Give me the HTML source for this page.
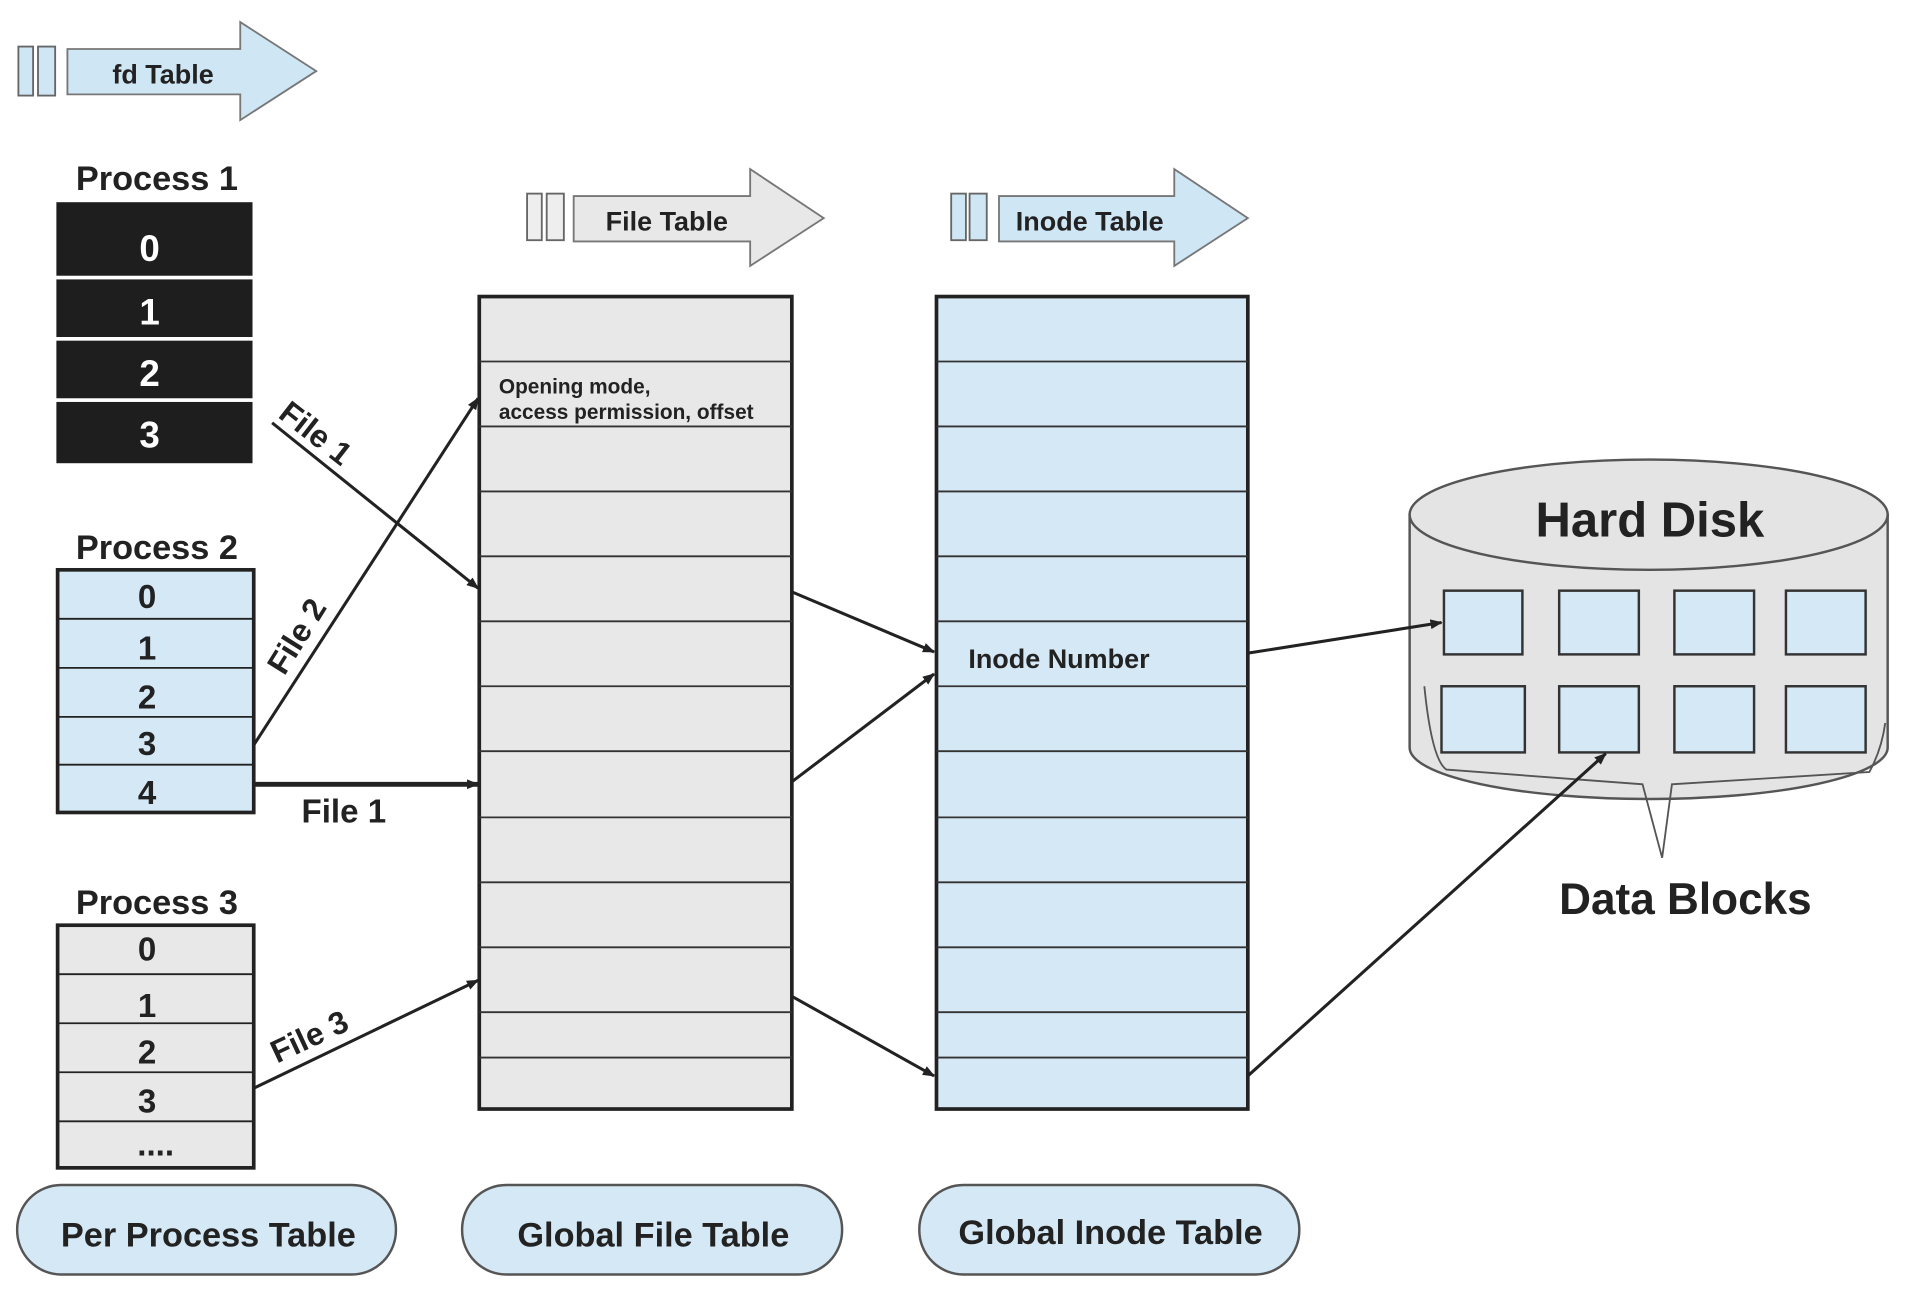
<!DOCTYPE html>
<html><head><meta charset="utf-8"><style>
html,body{margin:0;padding:0;background:#fff;}
svg{display:block;}
text{font-family:"Liberation Sans",sans-serif;font-weight:bold;fill:#222;}
</style></head><body>
<svg width="1922" height="1310" viewBox="0 0 1568 1069" preserveAspectRatio="none" xmlns="http://www.w3.org/2000/svg">
<defs>
<marker id="ah" markerWidth="10" markerHeight="10" refX="9" refY="5" orient="auto" markerUnits="userSpaceOnUse"><path d="M0,1 L10,5 L0,9 Z" fill="#222"/></marker>
</defs>
<rect width="1568" height="1069" fill="#fff"/>
<!-- fd Table arrow -->
<rect x="15" y="38" width="12" height="40" fill="#cfe6f5" stroke="#666" stroke-width="1.5"/>
<rect x="31" y="38" width="14" height="40" fill="#cfe6f5" stroke="#666" stroke-width="1.5"/>
<path d="M55,40 H196 V18 L258,58 L196,98 V77 H55 Z" fill="#cfe6f5" stroke="#777" stroke-width="1.5"/>
<text x="133" y="68" font-size="22" text-anchor="middle">fd Table</text>
<!-- File Table arrow -->
<rect x="430" y="158" width="12" height="38" fill="#eee" stroke="#666" stroke-width="1.5"/>
<rect x="446" y="158" width="14" height="38" fill="#eee" stroke="#666" stroke-width="1.5"/>
<path d="M468,160 H612 V138 L672,178 L612,217 V197 H468 Z" fill="#e8e8e8" stroke="#777" stroke-width="1.5"/>
<text x="544" y="188" font-size="22" text-anchor="middle">File Table</text>
<!-- Inode Table arrow -->
<rect x="776" y="158" width="12" height="38" fill="#cfe6f5" stroke="#666" stroke-width="1.5"/>
<rect x="791" y="158" width="14" height="38" fill="#cfe6f5" stroke="#666" stroke-width="1.5"/>
<path d="M815,160 H958 V138 L1018,178 L958,217 V197 H815 Z" fill="#cfe6f5" stroke="#777" stroke-width="1.5"/>
<text x="889" y="188" font-size="22" text-anchor="middle">Inode Table</text>

<!-- Process 1 -->
<text x="128" y="155" font-size="28" text-anchor="middle">Process 1</text>
<g fill="#1e1e1e">
<rect x="46" y="165" width="160" height="60"/><rect x="46" y="228" width="160" height="47"/>
<rect x="46" y="278" width="160" height="47"/><rect x="46" y="328" width="160" height="50"/>
</g>
<g font-size="30" text-anchor="middle">
<text x="122" y="213" style="fill:#fff">0</text><text x="122" y="265" style="fill:#fff">1</text>
<text x="122" y="315" style="fill:#fff">2</text><text x="122" y="365" style="fill:#fff">3</text>
</g>
<!-- Process 2 -->
<text x="128" y="456" font-size="28" text-anchor="middle">Process 2</text>
<rect x="47" y="465" width="160" height="198" fill="#d5e8f5" stroke="#222" stroke-width="3"/>
<g stroke="#222" stroke-width="1.5"><line x1="47" y1="505" x2="207" y2="505"/><line x1="47" y1="545" x2="207" y2="545"/><line x1="47" y1="585" x2="207" y2="585"/><line x1="47" y1="624" x2="207" y2="624"/></g>
<g font-size="27" text-anchor="middle"><text x="120" y="496">0</text><text x="120" y="538">1</text><text x="120" y="578">2</text><text x="120" y="616">3</text><text x="120" y="656">4</text></g>
<!-- Process 3 -->
<text x="128" y="746" font-size="28" text-anchor="middle">Process 3</text>
<rect x="47" y="755" width="160" height="198" fill="#e8e8e8" stroke="#222" stroke-width="3"/>
<g stroke="#222" stroke-width="1.5"><line x1="47" y1="795" x2="207" y2="795"/><line x1="47" y1="835" x2="207" y2="835"/><line x1="47" y1="875" x2="207" y2="875"/><line x1="47" y1="915" x2="207" y2="915"/></g>
<g font-size="27" text-anchor="middle"><text x="120" y="784">0</text><text x="120" y="830">1</text><text x="120" y="868">2</text><text x="120" y="908">3</text><text x="127" y="943">....</text></g>

<!-- Global file table -->
<rect x="391" y="242" width="255" height="663" fill="#e8e8e8" stroke="#222" stroke-width="3"/>
<g stroke="#333" stroke-width="1.5">
<line x1="391" y1="295" x2="646" y2="295"/><line x1="391" y1="348" x2="646" y2="348"/><line x1="391" y1="401" x2="646" y2="401"/><line x1="391" y1="454" x2="646" y2="454"/><line x1="391" y1="507" x2="646" y2="507"/><line x1="391" y1="560" x2="646" y2="560"/><line x1="391" y1="613" x2="646" y2="613"/><line x1="391" y1="667" x2="646" y2="667"/><line x1="391" y1="720" x2="646" y2="720"/><line x1="391" y1="773" x2="646" y2="773"/><line x1="391" y1="826" x2="646" y2="826"/><line x1="391" y1="863" x2="646" y2="863"/>
</g>
<text x="407" y="321" font-size="17">Opening mode,</text>
<text x="407" y="342" font-size="17">access permission, offset</text>
<!-- Inode table -->
<rect x="764" y="242" width="254" height="663" fill="#d5e8f5" stroke="#222" stroke-width="3"/>
<g stroke="#333" stroke-width="1.5">
<line x1="764" y1="295" x2="1018" y2="295"/><line x1="764" y1="348" x2="1018" y2="348"/><line x1="764" y1="401" x2="1018" y2="401"/><line x1="764" y1="454" x2="1018" y2="454"/><line x1="764" y1="507" x2="1018" y2="507"/><line x1="764" y1="560" x2="1018" y2="560"/><line x1="764" y1="613" x2="1018" y2="613"/><line x1="764" y1="667" x2="1018" y2="667"/><line x1="764" y1="720" x2="1018" y2="720"/><line x1="764" y1="773" x2="1018" y2="773"/><line x1="764" y1="826" x2="1018" y2="826"/><line x1="764" y1="863" x2="1018" y2="863"/>
</g>
<text x="790" y="545" font-size="22">Inode Number</text>

<!-- Hard disk -->
<path d="M1150,420 V610 A195,42 0 0 0 1540,610 V420 Z" fill="#e4e4e4" stroke="#555" stroke-width="2"/>
<ellipse cx="1345" cy="420" rx="195" ry="45" fill="#e4e4e4" stroke="#555" stroke-width="2"/>
<text x="1346" y="438" font-size="40" text-anchor="middle">Hard Disk</text>
<g fill="#d5e8f5" stroke="#333" stroke-width="2">
<rect x="1178" y="482" width="64" height="52"/><rect x="1272" y="482" width="65" height="52"/><rect x="1366" y="482" width="65" height="52"/><rect x="1457" y="482" width="65" height="52"/>
<rect x="1176" y="560" width="68" height="54"/><rect x="1272" y="560" width="65" height="54"/><rect x="1366" y="560" width="65" height="54"/><rect x="1457" y="560" width="65" height="54"/>
</g>
<path d="M1162,560 Q1168,620 1180,628 L1340,640 L1356,700 L1364,640 L1525,630 Q1535,612 1538,590" fill="none" stroke="#555" stroke-width="1.5"/>
<text x="1375" y="746" font-size="36" text-anchor="middle">Data Blocks</text>

<!-- Arrows -->
<g stroke="#222" stroke-width="2.5" fill="none" marker-end="url(#ah)">
<line x1="222" y1="345" x2="390" y2="480"/>
<line x1="207" y1="608" x2="390" y2="325"/>
<line x1="207" y1="640" x2="390" y2="640" stroke-width="4"/>
<line x1="207" y1="888" x2="390" y2="800"/>
<line x1="646" y1="483" x2="762" y2="532"/>
<line x1="646" y1="638" x2="762" y2="550"/>
<line x1="646" y1="813" x2="762" y2="878"/>
<line x1="1018" y1="533" x2="1176" y2="508"/>
<line x1="1018" y1="878" x2="1310" y2="615"/>
</g>
<text font-size="26" transform="translate(226,340) rotate(38)">File 1</text>
<text font-size="26" transform="translate(232,552) rotate(-58)">File 2</text>
<text x="246" y="671" font-size="27">File 1</text>
<text font-size="26" transform="translate(226,868) rotate(-25)">File 3</text>

<!-- Bottom labels -->
<g fill="#d5e8f5" stroke="#555" stroke-width="2">
<rect x="14" y="967" width="309" height="73" rx="36"/>
<rect x="377" y="967" width="310" height="73" rx="36"/>
<rect x="750" y="967" width="310" height="73" rx="36"/>
</g>
<text x="170" y="1017" font-size="28" text-anchor="middle">Per Process Table</text>
<text x="533" y="1017" font-size="28" text-anchor="middle">Global File  Table</text>
<text x="906" y="1015" font-size="28" text-anchor="middle">Global Inode Table</text>
</svg>
</body></html>
